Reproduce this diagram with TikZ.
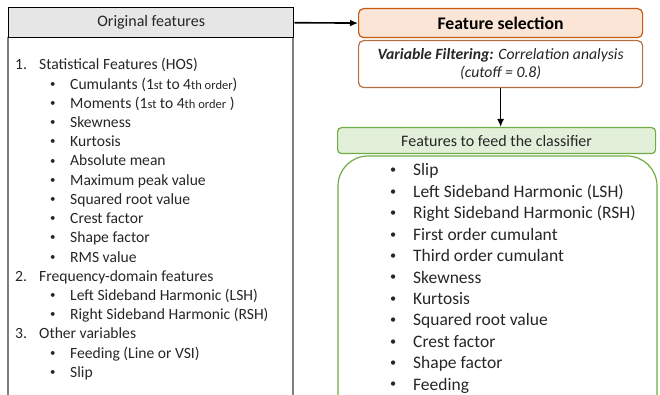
\documentclass[tikz,border=0pt]{standalone}
\usepackage{fontspec}
\setmainfont{Carlito}
\usetikzlibrary{arrows.meta}
\definecolor{hdrgray}{HTML}{E7E6E6}
\definecolor{bodygray}{HTML}{7F7F7F}
\definecolor{orfill}{HTML}{FBE5D6}
\definecolor{orline}{HTML}{C55A11}
\definecolor{orline2}{HTML}{B4703F}
\definecolor{grfill}{HTML}{E2F0D9}
\definecolor{grline}{HTML}{70AD47}
\definecolor{txt}{HTML}{262626}
\newcommand{\smtxt}[1]{{\fontsize{12.5}{14}\selectfont #1}}
\newcommand{\mybul}{\raisebox{0.12em}{\scalebox{0.7}{\textbullet}}}
\tikzset{
  lt/.style={anchor=base west, inner sep=0pt, font=\fontsize{15.6}{18}\selectfont, text=txt},
  rt/.style={anchor=base west, inner sep=0pt, font=\fontsize{17.5}{20}\selectfont, text=txt},
  conn/.style={draw=black, line width=1.6pt, -{Latex[length=8pt,width=7pt]}},
}
\begin{document}
\begin{tikzpicture}[x=1pt,y=-1pt]
\useasboundingbox (0,0) rectangle (660,395);
% left body and header
\draw[bodygray, line width=1.4pt] (8,37) -- (8,400) (293,37) -- (293,400);
\node[draw=black, line width=1.4pt, fill=hdrgray, minimum width=285pt, minimum height=30pt, anchor=north west, inner sep=0pt, font=\fontsize{16}{18}\selectfont, text=txt] (orig) at (8,7) {Original features};
% left list
\node[lt] (n1) at (15,70) {1.};
\node[lt] (t1) at (39,70) {Statistical Features (HOS)};
\foreach \k/\txt in {1/{Cumulants (1\smtxt{st} to 4\smtxt{th order})},
  2/{Moments (1\smtxt{st} to 4\smtxt{th order} )},
  3/Skewness, 4/Kurtosis, 5/Absolute mean, 6/Maximum peak value, 7/Squared root value,
  8/Crest factor, 9/Shape factor, 10/RMS value}{
  \node[lt] (lb\k) at (50,70+19.2*\k) {\mybul};
  \node[lt] (li\k) at (70,70+19.2*\k) {\txt};
}
\node[lt] (n2) at (15,70+19.2*11) {2.};
\node[lt] (t2) at (39,70+19.2*11) {Frequency-domain features};
\foreach \k/\txt in {12/Left Sideband Harmonic (LSH), 13/Right Sideband Harmonic (RSH)}{
  \node[lt] (lb\k) at (50,70+19.2*\k) {\mybul};
  \node[lt] (li\k) at (70,70+19.2*\k) {\txt};
}
\node[lt] (n3) at (15,70+19.2*14) {3.};
\node[lt] (t3) at (39,70+19.2*14) {Other variables};
\foreach \k/\txt in {15/Feeding (Line or VSI), 16/Slip}{
  \node[lt] (lb\k) at (50,70+19.2*\k) {\mybul};
  \node[lt] (li\k) at (70,70+19.2*\k) {\txt};
}
% feature selection
\node[draw=orline, line width=1.2pt, fill=orfill, rounded corners=5pt, minimum width=284pt, minimum height=29pt, anchor=north west, inner sep=0pt, font=\fontsize{17.7}{20}\selectfont\bfseries, text=black] (fsel) at (358,8) {Feature selection};
\node[draw=orline2, line width=1.2pt, fill=white, rounded corners=5pt, minimum width=284pt, minimum height=47pt, anchor=north west, inner sep=0pt, align=center, font=\fontsize{15.7}{18}\selectfont\itshape, text=txt] (vf) at (358,40) {\textbf{Variable Filtering:} Correlation analysis\\(cutoff = 0.8)};
% green
\node[draw=grline, line width=1.2pt, fill=grfill, rounded corners=4pt, minimum width=318pt, minimum height=26pt, anchor=north west, inner sep=0pt, font=\fontsize{16}{18}\selectfont, text=txt] (fhead) at (337,127) {Features to feed the classifier};
\draw[grline, line width=1.2pt, rounded corners=30pt] (338,420) -- (338,156) -- (657,156) -- (657,420);
\foreach \k/\txt in {0/Slip, 1/Left Sideband Harmonic (LSH), 2/Right Sideband Harmonic (RSH), 3/First order cumulant, 4/Third order cumulant, 5/Skewness, 6/Kurtosis, 7/Squared root value, 8/Crest factor, 9/Shape factor, 10/Feeding}{
  \node[rt] (rb\k) at (390,176+21.4*\k) {\mybul};
  \node[rt] (ri\k) at (413,176+21.4*\k) {\txt};
}
% connectors
\draw[conn] (orig.east) -- (fsel.west);
\draw[conn] (vf.south) -- (vf.south |- fhead.north);
\end{tikzpicture}
\end{document}
